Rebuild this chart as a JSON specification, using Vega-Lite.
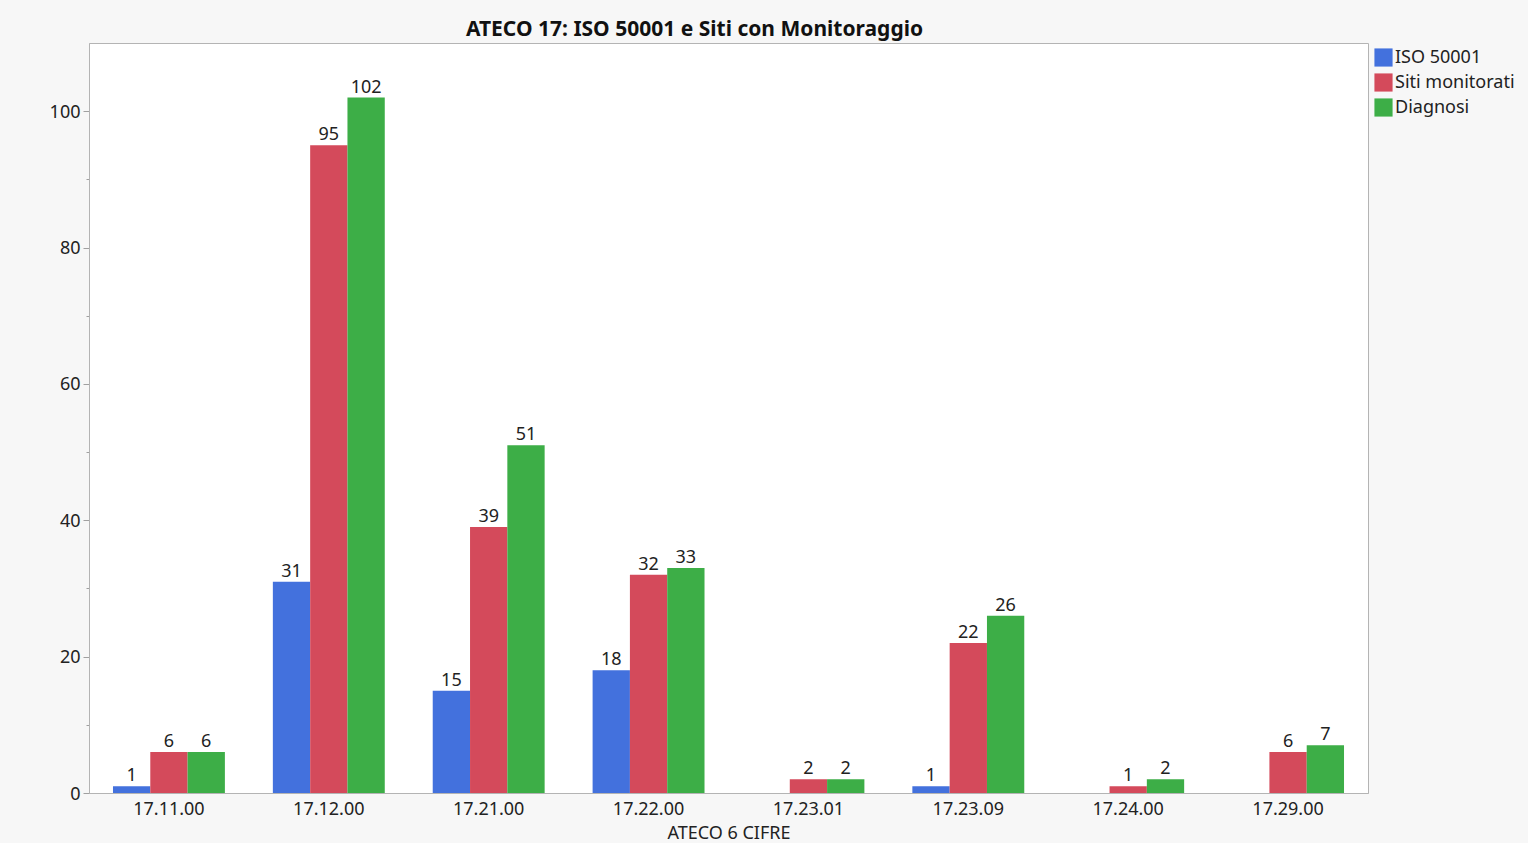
{
  "$schema": "https://vega.github.io/schema/vega-lite/v6.json",
  "autosize": {"type": "none"},
  "width": 1279,
  "height": 750,
  "padding": {"left": 89, "top": 43, "right": 160, "bottom": 50},
  "background": "#f7f7f7",
  "config": {
    "font": "Noto Sans",
    "view": {"fill": "white", "stroke": "#b4b4b4", "strokeWidth": 1}
  },
  "title": {
    "text": "ATECO 17: ISO 50001 e Siti con Monitoraggio",
    "fontSize": 21,
    "fontWeight": "bold",
    "color": "#111111",
    "anchor": "middle",
    "dx": -34,
    "offset": 3
  },
  "data": {
    "values": [
      {"ateco": "17.11.00", "serie": "ISO 50001", "n": 1},
      {"ateco": "17.11.00", "serie": "Siti monitorati", "n": 6},
      {"ateco": "17.11.00", "serie": "Diagnosi", "n": 6},
      {"ateco": "17.12.00", "serie": "ISO 50001", "n": 31},
      {"ateco": "17.12.00", "serie": "Siti monitorati", "n": 95},
      {"ateco": "17.12.00", "serie": "Diagnosi", "n": 102},
      {"ateco": "17.21.00", "serie": "ISO 50001", "n": 15},
      {"ateco": "17.21.00", "serie": "Siti monitorati", "n": 39},
      {"ateco": "17.21.00", "serie": "Diagnosi", "n": 51},
      {"ateco": "17.22.00", "serie": "ISO 50001", "n": 18},
      {"ateco": "17.22.00", "serie": "Siti monitorati", "n": 32},
      {"ateco": "17.22.00", "serie": "Diagnosi", "n": 33},
      {"ateco": "17.23.01", "serie": "Siti monitorati", "n": 2},
      {"ateco": "17.23.01", "serie": "Diagnosi", "n": 2},
      {"ateco": "17.23.09", "serie": "ISO 50001", "n": 1},
      {"ateco": "17.23.09", "serie": "Siti monitorati", "n": 22},
      {"ateco": "17.23.09", "serie": "Diagnosi", "n": 26},
      {"ateco": "17.24.00", "serie": "Siti monitorati", "n": 1},
      {"ateco": "17.24.00", "serie": "Diagnosi", "n": 2},
      {"ateco": "17.29.00", "serie": "Siti monitorati", "n": 6},
      {"ateco": "17.29.00", "serie": "Diagnosi", "n": 7}
    ]
  },
  "encoding": {
    "x": {
      "field": "ateco",
      "type": "nominal",
      "scale": {"paddingInner": 0.3, "paddingOuter": 0.15},
      "axis": {
        "title": "ATECO 6 CIFRE",
        "labelAngle": 0,
        "labelFontSize": 18,
        "labelColor": "#222222",
        "titleFontSize": 18,
        "titleFontWeight": "normal",
        "titleColor": "#222222",
        "titlePadding": 6,
        "ticks": false,
        "labelPadding": 7,
        "domainColor": "#b4b4b4"
      }
    },
    "xOffset": {
      "field": "serie",
      "type": "nominal",
      "sort": ["ISO 50001", "Siti monitorati", "Diagnosi"]
    },
    "y": {
      "field": "n",
      "type": "quantitative",
      "scale": {"domain": [0, 110], "nice": false},
      "axis": {
        "title": null,
        "values": [0, 10, 20, 30, 40, 50, 60, 70, 80, 90, 100],
        "labelExpr": "datum.value % 20 === 0 ? datum.label : ''",
        "tickSize": {"condition": {"test": "datum.value % 20 === 0", "value": 6}, "value": 3},
        "tickColor": "#a0a0a0",
        "domainColor": "#b4b4b4",
        "labelFontSize": 18,
        "labelColor": "#222222",
        "labelPadding": 3,
        "labelBaseline": "middle",
        "labelOffset": 1,
        "grid": false
      }
    },
    "color": {
      "field": "serie",
      "type": "nominal",
      "sort": ["ISO 50001", "Siti monitorati", "Diagnosi"],
      "scale": {
        "domain": ["ISO 50001", "Siti monitorati", "Diagnosi"],
        "range": ["#4371DD", "#D44A5B", "#3DAE47"]
      },
      "legend": {
        "title": null,
        "orient": "none",
        "legendX": 1285,
        "legendY": 5,
        "symbolType": "square",
        "symbolSize": 330,
        "symbolStrokeWidth": 0,
        "symbolOpacity": 1,
        "labelFontSize": 18,
        "labelColor": "#222222",
        "labelOffset": 2,
        "rowPadding": 6,
        "padding": 0
      }
    }
  },
  "layer": [
    {"mark": {"type": "bar", "opacity": 1}},
    {
      "mark": {"type": "text", "baseline": "bottom", "dy": -1, "fontSize": 18, "color": "#222222"},
      "encoding": {"text": {"field": "n", "type": "quantitative"}, "color": {"value": "#222222"}}
    }
  ]
}
